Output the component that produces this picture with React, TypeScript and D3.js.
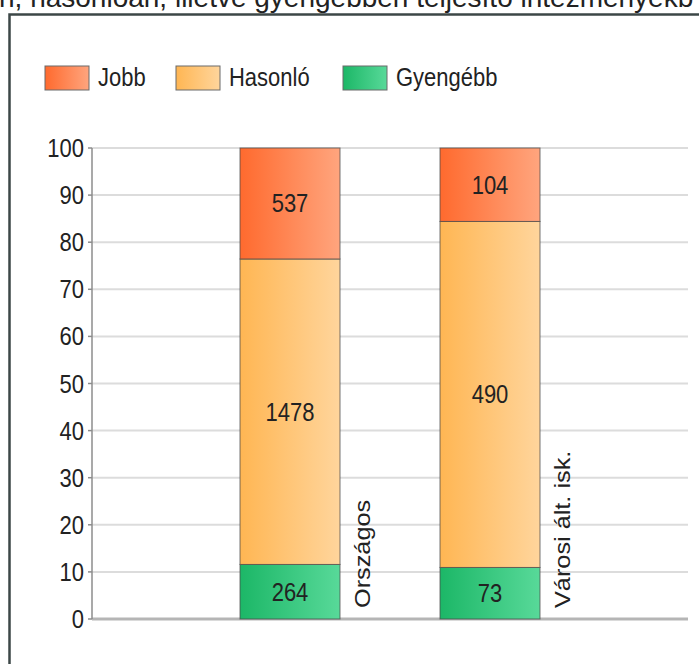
import React from "react";
import * as d3 from "d3";

// ---- data ----
const categories = ["Országos", "Városi ált. isk."];
const seriesKeys = ["Gyengébb", "Hasonló", "Jobb"];
const gyengebbValues = [264, 73];
const hasonloValues = [1478, 490];
const jobbValues = [537, 104];
const yTickValues = [0, 10, 20, 30, 40, 50, 60, 70, 80, 90, 100];
const legendKeys = ["Jobb", "Hasonló", "Gyengébb"];
const headerText = "n, hasonlóan, illetve gyengébben teljesítő intézményekb";

// ---- styling ----
const W = 699;
const H = 664;
const SY = 1.15;
const FONT = "'Liberation Sans', Arial, sans-serif";
const gradColors: Record<string, [string, string]> = {
  Jobb: ["#ff6a2e", "#ffa57e"],
  "Hasonló": ["#ffb653", "#ffd59c"],
  "Gyengébb": ["#1cb767", "#58d999"],
};
const gradIds: Record<string, string> = { Jobb: "gJobb", "Hasonló": "gHas", "Gyengébb": "gGy" };

export default function App() {
  const rows = categories.map((c, i) => ({
    cat: c,
    "Gyengébb": gyengebbValues[i],
    "Hasonló": hasonloValues[i],
    Jobb: jobbValues[i],
  }));
  const stacked = d3
    .stack<any>()
    .keys(seriesKeys)
    .offset(d3.stackOffsetExpand)(rows);

  const x = d3
    .scaleBand<string>()
    .domain(categories)
    .range([190, 590])
    .paddingInner(0.5)
    .paddingOuter(0.25);
  const y = d3.scaleLinear().domain([0, 100]).range([619, 148]);
  const axisX = 92;
  const gridRight = 688;

  const T = (props: any) => {
    const { x: tx, y: ty, rotate, children, ...rest } = props;
    const tr = rotate
      ? `translate(${tx},${ty}) rotate(-90) scale(${SY},1)`
      : `translate(${tx},${ty}) scale(1,${SY})`;
    return (
      <text transform={tr} fontFamily={FONT} fontSize={22} fill="#222" {...rest}>
        {children}
      </text>
    );
  };

  return (
    <div style={{ position: "absolute", left: 0, top: 0 }}>
      <svg width={W} height={H} style={{ display: "block", background: "#fff" }}>
        <defs>
          {seriesKeys.map((k) => (
            <linearGradient key={k} id={gradIds[k]} x1="0" x2="1" y1="0" y2="0">
              <stop offset="0" stopColor={gradColors[k][0]} />
              <stop offset="1" stopColor={gradColors[k][1]} />
            </linearGradient>
          ))}
        </defs>

        {/* header text (cut off) */}
        <text x={-1} y={7} fontFamily={FONT} fontSize={28} fill="#222">
          {headerText}
        </text>

        {/* frame */}
        <rect x={9.5} y={14.5} width={900} height={900} fill="none" stroke="#3c4747" strokeWidth={2.5} />

        {/* legend */}
        {legendKeys.map((k, i) => {
          const lx = [45, 176, 343][i];
          return (
            <g key={k}>
              <rect x={lx} y={66} width={44} height={24} fill={`url(#${gradIds[k]})`} stroke="#6a6a6a" strokeWidth={1} />
              <T x={lx + 53} y={86}>{k}</T>
            </g>
          );
        })}

        {/* gridlines */}
        {yTickValues.map((t) => (
          <line
            key={t}
            x1={axisX}
            x2={gridRight}
            y1={y(t)}
            y2={y(t)}
            stroke={t === 0 ? "#b5b5b5" : "#dcdcdc"}
            strokeWidth={t === 0 ? 3 : 2}
          />
        ))}

        {/* y axis */}
        <line x1={axisX} x2={axisX} y1={y(100)} y2={y(0)} stroke="#8c8c8c" strokeWidth={1.5} />
        {yTickValues.map((t) => (
          <g key={"t" + t}>
            <line x1={axisX - 4} x2={axisX} y1={y(t)} y2={y(t)} stroke="#8c8c8c" strokeWidth={1.5} />
            <T x={84} y={y(t) + 9} textAnchor="end">{t}</T>
          </g>
        ))}

        {/* bars */}
        {stacked.map((s) =>
          s.map((d, i) => {
            const cat = categories[i];
            const x0 = x(cat)!;
            const yTop = y(d[1] * 100);
            const yBot = y(d[0] * 100);
            const val = (rows[i] as any)[s.key];
            return (
              <g key={s.key + cat}>
                <rect
                  x={x0}
                  y={yTop}
                  width={x.bandwidth()}
                  height={yBot - yTop}
                  fill={`url(#${gradIds[s.key]})`}
                  stroke="#4a4a4a"
                  strokeOpacity={0.75}
                  strokeWidth={1}
                />
                <T x={x0 + x.bandwidth() / 2} y={(yTop + yBot) / 2 + 9} textAnchor="middle">
                  {val}
                </T>
              </g>
            );
          })
        )}

        {/* category labels (rotated) */}
        {categories.map((c) => (
          <T key={c} x={x(c)! + x.bandwidth() + 30} y={y(0) - 11} rotate>
            {c}
          </T>
        ))}
      </svg>
    </div>
  );
}
